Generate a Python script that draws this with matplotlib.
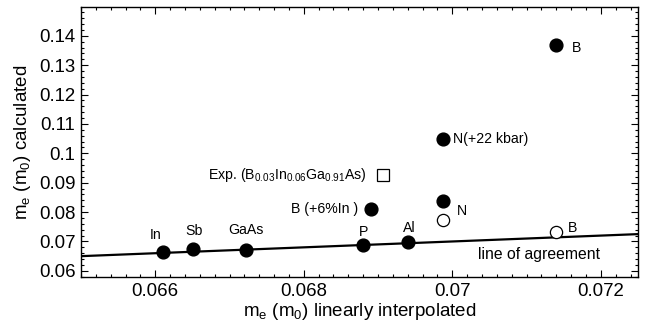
import matplotlib
matplotlib.use("Agg")
import matplotlib.pyplot as plt
from matplotlib.ticker import MultipleLocator, FormatStrFormatter, FuncFormatter

plt.rcParams['font.family'] = ['Liberation Sans', 'DejaVu Sans']
plt.rcParams['mathtext.default'] = 'regular'

# filled circles: (label, x interpolated, y calculated)
filled_names = ["In", "Sb", "GaAs", "P", "Al", "B (+6%In )", "N", "N(+22 kbar)", "B"]
filled_x = [0.06611, 0.06651, 0.06722, 0.06880, 0.06940, 0.06891, 0.06987, 0.06987, 0.07140]
filled_y = [0.06626, 0.06742, 0.06718, 0.06865, 0.06968, 0.08109, 0.08369, 0.10503, 0.13692]

# open circles
open_names = ["N", "B"]
open_x = [0.06987, 0.07140]
open_y = [0.07720, 0.07309]

# experiment (open square)
exp_x = [0.06907]
exp_y = [0.09248]

# line of agreement
agree_x = [0.065, 0.0725]

fig = plt.figure(figsize=(6.51, 3.24), dpi=100)
ax = fig.add_axes([0.1244, 0.145, 0.8556, 0.8325])

ax.plot(agree_x, agree_x, color='black', lw=1.6, zorder=2)
ax.plot(filled_x, filled_y, 'o', color='black', ms=9.2, zorder=3, linestyle='none')
ax.plot(open_x, open_y, 'o', mfc='white', mec='black', mew=0.9, ms=8.8, zorder=3, linestyle='none')
ax.plot(exp_x, exp_y, 's', mfc='white', mec='black', mew=0.9, ms=8.0, zorder=3, linestyle='none')

fs = 10.2
ax.text(0.06601, 0.07231, "In", fontsize=fs, ha='center', va='center')
ax.text(0.06652, 0.07368, "Sb", fontsize=fs, ha='center', va='center')
ax.text(0.06722, 0.07402, "GaAs", fontsize=fs, ha='center', va='center')
ax.text(0.06880, 0.07309, "P", fontsize=fs, ha='center', va='center')
ax.text(0.06942, 0.07446, "Al", fontsize=fs, ha='center', va='center')
ax.text(0.07013, 0.08041, "N", fontsize=fs, ha='center', va='center')
ax.text(0.07162, 0.07460, "B", fontsize=fs, ha='center', va='center')
ax.text(0.07167, 0.13580, "B", fontsize=fs, ha='center', va='center')
ax.text(0.07001, 0.10503, "N(+22 kbar)", fontsize=fs, ha='left', va='center')
ax.text(0.06873, 0.08109, "B (+6%In )", fontsize=fs, ha='right', va='center')
ax.text(0.068851, 0.09248, r"Exp. (B$_{0.03}$In$_{0.06}$Ga$_{0.91}$As)", fontsize=fs, ha='right', va='center')
ax.text(0.07034, 0.06547, "line of agreement", fontsize=11.3, ha='left', va='center')

ax.set_xlim(0.065, 0.0725)
ax.set_ylim(0.0579, 0.1497)

ax.xaxis.set_major_locator(MultipleLocator(0.002))
ax.xaxis.set_minor_locator(MultipleLocator(0.0002))
ax.yaxis.set_major_locator(MultipleLocator(0.01))
ax.yaxis.set_minor_locator(MultipleLocator(0.002))

def fmt(v, pos):
    s = ("%.4f" % v).rstrip('0').rstrip('.')
    return s
ax.xaxis.set_major_formatter(FuncFormatter(fmt))
ax.yaxis.set_major_formatter(FuncFormatter(fmt))

ax.tick_params(which='both', direction='in', top=True, right=True, labelsize=13.4, width=0.8)
ax.tick_params(which='major', length=5, pad=4)
ax.tick_params(which='minor', length=2.5)
for sp in ax.spines.values():
    sp.set_linewidth(1.0)

ax.set_xlabel(r"m$_e$ (m$_0$) linearly interpolated", fontsize=13.5, labelpad=1)
ax.set_ylabel(r"m$_e$ (m$_0$) calculated", fontsize=13.5, labelpad=4)

fig.savefig("out.png", dpi=100)
